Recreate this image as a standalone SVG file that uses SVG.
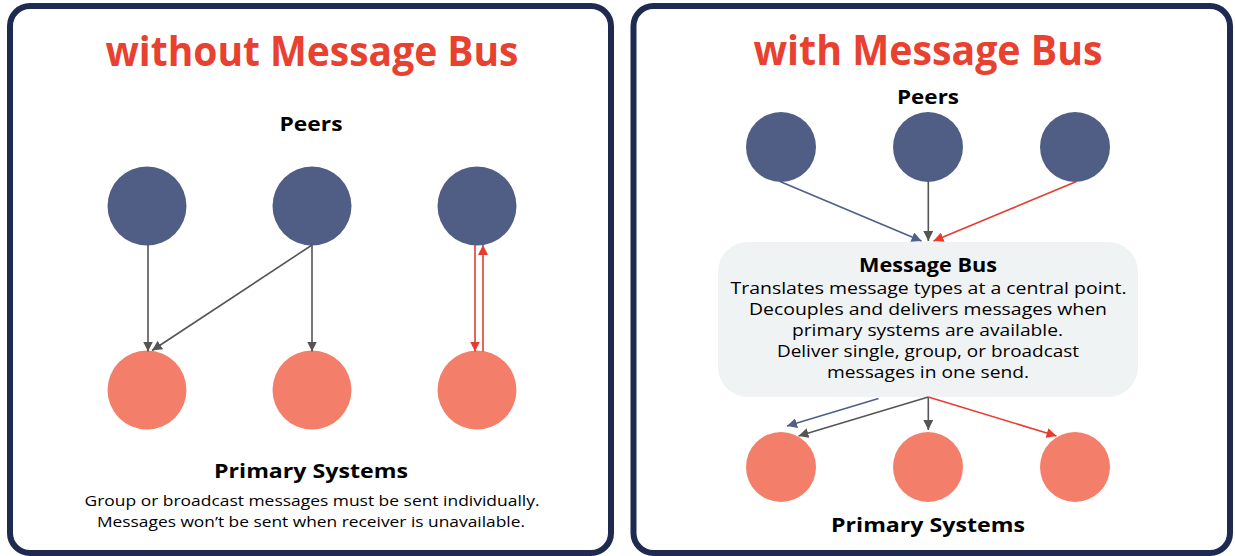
<svg xmlns="http://www.w3.org/2000/svg" width="1235" height="556" viewBox="0 0 1235 556">
<defs>
<style>
.panel{fill:#fff;stroke:#1f2a50;stroke-width:6}
.title{font-family:"Open Sans","Liberation Sans",sans-serif;font-weight:700;font-size:41px;fill:#e8412f;text-anchor:middle}
.head{font-family:"Open Sans","Liberation Sans",sans-serif;font-weight:700;font-size:20px;fill:#000;text-anchor:middle}
.desc{font-family:"Open Sans","Liberation Sans",sans-serif;font-size:15px;fill:#000;text-anchor:middle}
.bus{font-family:"Open Sans","Liberation Sans",sans-serif;font-size:16px;fill:#000;text-anchor:middle}
.peer{fill:#505e85}
.prim{fill:#f37f6a}
.g{stroke:#555;stroke-width:1.6;fill:none}
.r{stroke:#e53c2e;stroke-width:1.6;fill:none}
.b{stroke:#4f5e8a;stroke-width:1.6;fill:none}
</style>
<marker id="ag" viewBox="0 0 10 10" refX="10" refY="5" markerWidth="10" markerHeight="10" markerUnits="userSpaceOnUse" orient="auto"><path d="M0,0 L10,5 L0,10 Z" fill="#555"/></marker>
<marker id="ar" viewBox="0 0 10 10" refX="10" refY="5" markerWidth="10" markerHeight="10" markerUnits="userSpaceOnUse" orient="auto"><path d="M0,0 L10,5 L0,10 Z" fill="#e53c2e"/></marker>
<marker id="ab" viewBox="0 0 10 10" refX="10" refY="5" markerWidth="10" markerHeight="10" markerUnits="userSpaceOnUse" orient="auto"><path d="M0,0 L10,5 L0,10 Z" fill="#4f5e8a"/></marker>
</defs>

<g id="panel-left">
<rect class="panel" x="10" y="6" width="601" height="547" rx="20"/>
<text class="title" x="312" y="66" textLength="413" lengthAdjust="spacingAndGlyphs">without Message Bus</text>
</g>
<g id="panel-right">
<rect class="panel" x="633.5" y="6" width="596.5" height="547" rx="20"/>
<text class="title" x="928" y="65" textLength="349" lengthAdjust="spacingAndGlyphs">with Message Bus</text>
</g>

<g id="left-peers-label"><text class="head" x="311" y="131" textLength="63" lengthAdjust="spacingAndGlyphs">Peers</text></g>
<g id="left-peer-1"><circle class="peer" cx="147" cy="206" r="39.5"/></g>
<g id="left-peer-2"><circle class="peer" cx="312" cy="206" r="39.5"/></g>
<g id="left-peer-3"><circle class="peer" cx="477" cy="206" r="39.5"/></g>
<g id="left-prim-1"><circle class="prim" cx="147" cy="390" r="39.5"/></g>
<g id="left-prim-2"><circle class="prim" cx="312" cy="390" r="39.5"/></g>
<g id="left-prim-3"><circle class="prim" cx="477" cy="390" r="39.5"/></g>
<g id="left-footer">
<text class="head" x="311" y="478" font-size="21" textLength="194" lengthAdjust="spacingAndGlyphs">Primary Systems</text>
<text class="desc" x="312" y="506" textLength="455" lengthAdjust="spacingAndGlyphs">Group or broadcast messages must be sent individually.</text>
<text class="desc" x="311" y="527" textLength="428" lengthAdjust="spacingAndGlyphs">Messages won’t be sent when receiver is unavailable.</text>
</g>

<g id="right-peers-label"><text class="head" x="928" y="104" textLength="62" lengthAdjust="spacingAndGlyphs">Peers</text></g>
<g id="right-peer-1"><circle class="peer" cx="781" cy="147" r="35"/></g>
<g id="right-peer-2"><circle class="peer" cx="928" cy="147" r="35"/></g>
<g id="right-peer-3"><circle class="peer" cx="1075" cy="147" r="35"/></g>
<g id="message-bus">
<rect x="718" y="242" width="420" height="155" rx="30" fill="#f0f3f4"/>
<text class="head" x="928" y="272" font-size="19" textLength="138" lengthAdjust="spacingAndGlyphs">Message Bus</text>
<text class="bus" x="928.5" y="294" textLength="396" lengthAdjust="spacingAndGlyphs">Translates message types at a central point.</text>
<text class="bus" x="928" y="315" textLength="358" lengthAdjust="spacingAndGlyphs">Decouples and delivers messages when</text>
<text class="bus" x="927.5" y="336" textLength="271" lengthAdjust="spacingAndGlyphs">primary systems are available.</text>
<text class="bus" x="928" y="357" textLength="302" lengthAdjust="spacingAndGlyphs">Deliver single, group, or broadcast</text>
<text class="bus" x="928" y="378" textLength="202" lengthAdjust="spacingAndGlyphs">messages in one send.</text>
</g>
<g id="right-prim-1"><circle class="prim" cx="781" cy="467" r="35"/></g>
<g id="right-prim-2"><circle class="prim" cx="928" cy="467" r="35"/></g>
<g id="right-prim-3"><circle class="prim" cx="1075" cy="467" r="35"/></g>
<g id="right-footer"><text class="head" x="928" y="532" font-size="21" textLength="194" lengthAdjust="spacingAndGlyphs">Primary Systems</text></g>

<g id="connectors">
<line class="g" x1="148" y1="245" x2="148" y2="351.5" marker-end="url(#ag)"/>
<line class="g" x1="312" y1="245" x2="152" y2="350.5" marker-end="url(#ag)"/>
<line class="g" x1="312" y1="245" x2="312" y2="351.5" marker-end="url(#ag)"/>
<line class="r" x1="475" y1="245" x2="475" y2="351.5" marker-end="url(#ar)"/>
<line class="r" x1="483" y1="351.5" x2="483" y2="245" marker-end="url(#ar)"/>
<line class="b" x1="780" y1="181.5" x2="921.5" y2="241" marker-end="url(#ab)"/>
<line class="g" x1="928.3" y1="181.5" x2="928.3" y2="241" marker-end="url(#ag)"/>
<line class="r" x1="1076.5" y1="181.5" x2="933.5" y2="241" marker-end="url(#ar)"/>
<line class="b" x1="878.5" y1="398.5" x2="787" y2="426" marker-end="url(#ab)"/>
<line class="g" x1="928.3" y1="397" x2="798.5" y2="436" marker-end="url(#ag)"/>
<line class="g" x1="928.3" y1="397" x2="928.3" y2="430" marker-end="url(#ag)"/>
<line class="r" x1="928.3" y1="397" x2="1056.5" y2="436" marker-end="url(#ar)"/>
</g>
</svg>
